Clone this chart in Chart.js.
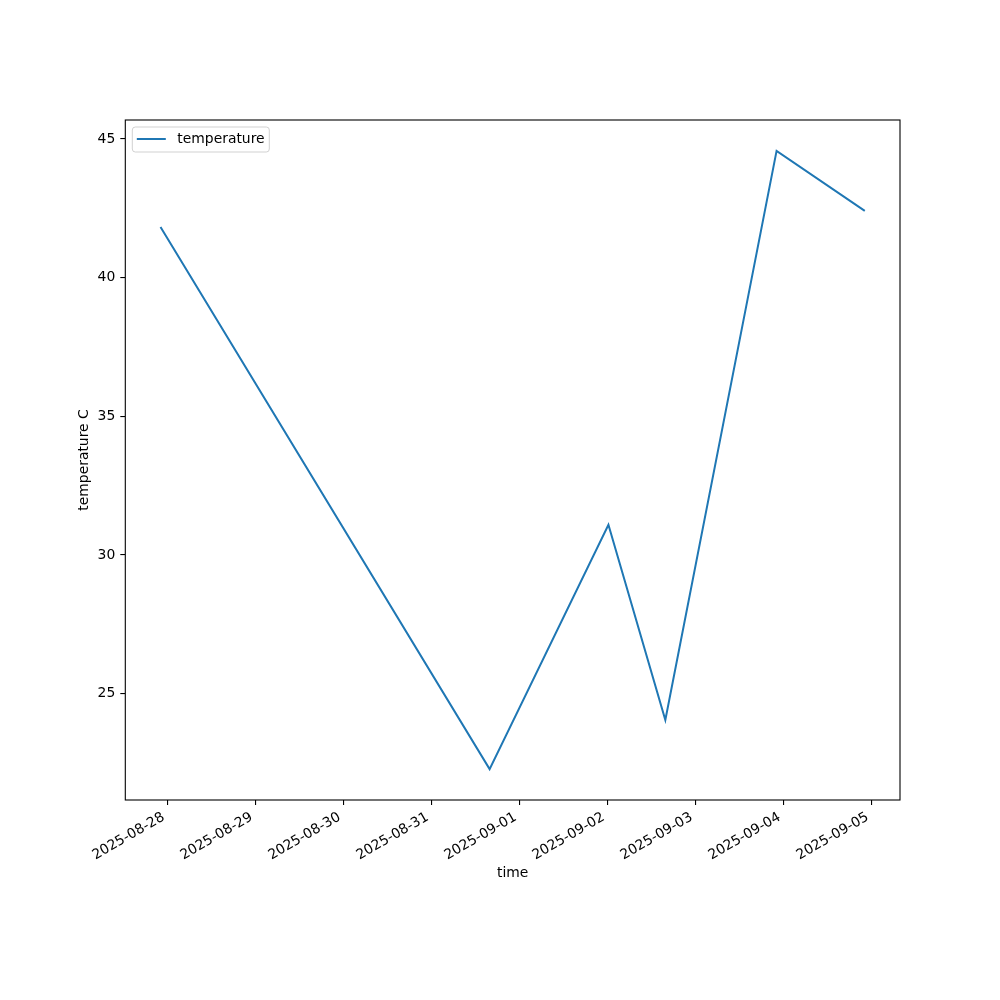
<!DOCTYPE html>
<html>
<head>
<meta charset="utf-8">
<script src="https://cdn.jsdelivr.net/npm/chart.js@4/dist/chart.umd.min.js"></script>
<style>
html,body{margin:0;padding:0;background:#fff;}
canvas{display:block;}
</style>
</head>
<body>
<canvas id="c" width="1000" height="1000"></canvas>
<script>
// ---- data ----
const times = ['2025-08-27T22:06:00Z','2025-08-31T15:50:00Z','2025-09-02T00:14:00Z','2025-09-02T15:45:00Z','2025-09-03T22:05:00Z','2025-09-04T22:08:00Z'];
const temps = [41.83, 22.28, 31.09, 24.05, 44.57, 42.41];
const xTickLabels = ['2025-08-28','2025-08-29','2025-08-30','2025-08-31','2025-09-01','2025-09-02','2025-09-03','2025-09-04','2025-09-05'];
const yTickValues = [25, 30, 35, 40, 45];
const seriesName = 'temperature';
const xTitle = 'time';
const yTitle = 'temperature C';

const FONT = 'DejaVu Sans';
const FS = 13.9;
const LINE = '#1f77b4';

const xs = times.map(t => Date.parse(t));
const xMinD = Math.min(...xs), xMaxD = Math.max(...xs);
const yMinD = Math.min(...temps), yMaxD = Math.max(...temps);
const xm = (xMaxD - xMinD) * 0.05, ym = (yMaxD - yMinD) * 0.05;

const points = xs.map((x, i) => ({x: x, y: temps[i]}));

const frame = {
  id: 'frame',
  afterDraw(chart) {
    const {ctx, chartArea: a} = chart;
    ctx.save();
    ctx.strokeStyle = '#000';
    ctx.lineWidth = 1.1;
    ctx.strokeRect(a.left, a.top, a.right - a.left, a.bottom - a.top);
    // legend box
    const bx = a.left + 7, by = a.top + 7, bw = 137, bh = 25, r = 3;
    ctx.beginPath();
    ctx.moveTo(bx + r, by);
    ctx.lineTo(bx + bw - r, by);
    ctx.arcTo(bx + bw, by, bx + bw, by + r, r);
    ctx.lineTo(bx + bw, by + bh - r);
    ctx.arcTo(bx + bw, by + bh, bx + bw - r, by + bh, r);
    ctx.lineTo(bx + r, by + bh);
    ctx.arcTo(bx, by + bh, bx, by + bh - r, r);
    ctx.lineTo(bx, by + r);
    ctx.arcTo(bx, by, bx + r, by, r);
    ctx.closePath();
    ctx.fillStyle = 'rgba(255,255,255,0.8)';
    ctx.fill();
    ctx.strokeStyle = 'rgba(204,204,204,0.9)';
    ctx.lineWidth = 1;
    ctx.stroke();
    ctx.beginPath();
    ctx.strokeStyle = LINE;
    ctx.lineWidth = 2;
    ctx.moveTo(bx + 4.5, by + 12);
    ctx.lineTo(bx + 33.5, by + 12);
    ctx.stroke();
    ctx.fillStyle = '#000';
    ctx.font = FS + 'px "' + FONT + '"';
    ctx.textBaseline = 'middle';
    ctx.textAlign = 'left';
    ctx.fillText(seriesName, bx + 45, by + 12.5);
    ctx.restore();
  }
};

new Chart(document.getElementById('c'), {
  type: 'line',
  data: {
    datasets: [{
      label: seriesName,
      data: points,
      borderColor: LINE,
      backgroundColor: LINE,
      borderWidth: 2,
      pointRadius: 0,
      tension: 0,
      fill: false
    }]
  },
  options: {
    responsive: false,
    devicePixelRatio: 1,
    animation: false,
    layout: {padding: {left: 0, top: 120, right: 100, bottom: 110}},
    plugins: {legend: {display: false}, tooltip: {enabled: false}},
    scales: {
      x: {
        type: 'linear',
        min: xMinD - xm,
        max: xMaxD + xm,
        afterBuildTicks(scale) {
          scale.ticks = xTickLabels.map(d => ({value: Date.parse(d + 'T00:00:00Z')}));
        },
        afterFit(scale) { scale.height = 90; },
        border: {display: false},
        grid: {display: true, drawOnChartArea: false, drawTicks: true, tickLength: 5, color: '#000', lineWidth: 1.1},
        ticks: {
          autoSkip: false,
          minRotation: 30,
          maxRotation: 30,
          padding: 4,
          labelOffset: -4,
          color: '#000',
          font: {family: FONT, size: FS},
          callback: (v) => new Date(v).toISOString().slice(0, 10)
        },
        title: {display: true, text: xTitle, color: '#000', font: {family: FONT, size: FS}, padding: {top: 0, bottom: 8.6}}
      },
      y: {
        type: 'linear',
        min: yMinD - ym,
        max: yMaxD + ym,
        afterBuildTicks(scale) {
          scale.ticks = yTickValues.map(v => ({value: v}));
        },
        afterFit(scale) { scale.width = 125.3; },
        border: {display: false},
        grid: {display: true, drawOnChartArea: false, drawTicks: true, tickLength: 5, color: '#000', lineWidth: 1.1},
        ticks: {
          padding: 5,
          color: '#000',
          font: {family: FONT, size: FS},
          callback: (v) => String(v)
        },
        title: {display: true, text: yTitle, color: '#000', font: {family: FONT, size: FS}, padding: {top: 75.6, bottom: 0}}
      }
    }
  },
  plugins: [frame]
});
</script>
</body>
</html>
